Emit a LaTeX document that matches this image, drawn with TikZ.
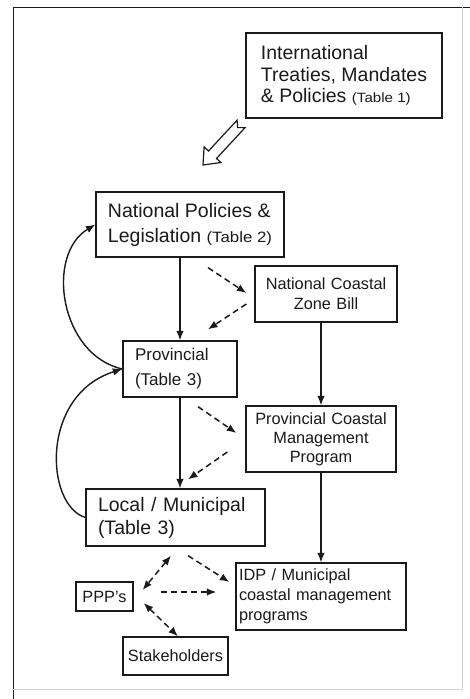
\documentclass[tikz,border=0pt]{standalone}
\usepackage{fontspec}
\usepackage{graphicx}
\setmainfont{Liberation Sans}
\usetikzlibrary{arrows.meta,calc}

\definecolor{ink}{HTML}{1A1A1A}

% small, slightly widened table reference
\newcommand{\tabref}[2]{\scalebox{1.12}[1]{\fontsize{#1}{#1}\selectfont #2}}

\begin{document}
\begin{tikzpicture}[x=1pt,y=-1pt,
  box/.style={draw=ink, line width=1.3pt, text=ink, inner ysep=0pt, anchor=center},
  bigtype/.style={font=\fontsize{19.5}{#1}\selectfont},
  smalltype/.style={font=\fontsize{16.3}{#1}\selectfont},
  tip/.tip={Latex[length=9.5pt,width=7.5pt]},
  solidarrow/.style={draw=ink, line width=1.4pt, -tip},
  dasharrow/.style={draw=ink, line width=1.5pt, dash pattern=on 6pt off 4pt, -tip},
  dashboth/.style={draw=ink, line width=1.5pt, dash pattern=on 6pt off 4pt, tip-tip},
  curvearrow/.style={draw=ink, line width=1.4pt, -tip}]

\useasboundingbox (0,0) rectangle (470,699);
\fill[white] (0,0) rectangle (470,699);

% outer frame
\draw[ink, line width=1pt] (13,699) -- (13,7) -- (470,7);
\draw[black!18, line width=0.8pt] (13,689) -- (462,689) -- (462,7);

% boxes
\node[box, bigtype=21.7, minimum width=196pt, minimum height=85pt, align=left] (intl) at (344,75.5)
  {International\\Treaties, Mandates\\\& Policies \tabref{13.5}{(Table 1)}};
\node[box, bigtype=25, minimum width=188pt, minimum height=65pt, align=left] (natl) at (190,224.5)
  {National Policies \&\\Legislation \tabref{15}{(Table 2)}};
\node[box, smalltype=20, text width=130pt, inner xsep=6pt, minimum height=56pt, align=center] (nczb) at (326,294)
  {National Coastal\\Zone Bill};
\node[box, font=\fontsize{17}{25}\selectfont, text width=90pt, inner xsep=12pt, minimum height=56pt, align=left] (prov) at (180,369)
  {Provincial\\(Table 3)};
\node[box, smalltype=19, text width=142pt, inner xsep=4pt, minimum height=66pt, align=center] (pcmp) at (321,439)
  {Provincial Coastal\\Management\\Program};
\node[box, bigtype=23, text width=155pt, inner xsep=12pt, minimum height=57pt, align=left] (local) at (175.5,517.5)
  {Local / Municipal\\(Table 3)};
\node[box, smalltype=20, text width=164pt, inner xsep=3pt, minimum height=67pt, align=left] (idp) at (321,596.5)
  {IDP / Municipal\\coastal management\\programs};
\node[box, smalltype=20, minimum width=57pt, minimum height=29pt, align=center] (ppp) at (104.5,596.5)
  {PPP's};
\node[box, smalltype=20, minimum width=105pt, minimum height=38pt, align=center] (stake) at (175.5,656)
  {Stakeholders};

% hollow arrow from the international level down to national policy
\draw[ink, line width=1.2pt, fill=white, line join=miter]
  (203,165) -- (220.9,162.5) -- (216.5,158.5) -- (245.1,127.6) -- (237.7,127.6)
  -- (237.1,120.2) -- (208.5,151.0) -- (204.1,146.9) -- cycle;

% main vertical flow
\draw[solidarrow] (natl.south -| prov.north) -- (prov.north);
\draw[solidarrow] (prov.south) -- (prov.south |- local.north);
\draw[solidarrow] (nczb.south -| pcmp.north) -- (pcmp.north);
\draw[solidarrow] (pcmp.south) -- (pcmp.south |- idp.north);

% feedback loops on the left
\draw[curvearrow] (prov.west) .. controls (60,355) and (45,255) .. (natl.west);
\draw[curvearrow] (local.west) .. controls (45,505) and (40,395) .. (prov.west);

% dashed exchanges
\draw[dasharrow] ($(natl.south)+(18,10)$) -- ($(nczb.west)+(-8,-1)$);
\draw[dasharrow] ($(nczb.west)+(-8,10)$) -- ($(prov.north)+(28,-11)$);
\draw[dasharrow] ($(prov.south)+(18,9)$) -- ($(pcmp.west)+(-9,-6)$);
\draw[dasharrow] ($(pcmp.west)+(-18,13)$) -- ($(local.north)+(12.5,-9)$);
\draw[dashboth] ($(local.south)+(-4.5,9)$) -- ($(ppp.east)+(9,-6.5)$);
\draw[dasharrow] ($(local.south)+(12.5,9)$) -- ($(idp.west)+(-6,-14.5)$);
\draw[dasharrow] ($(ppp.east)+(27,-4.5)$) -- ($(idp.west)+(-19,-4.5)$);
\draw[dashboth] ($(ppp.east)+(10,6.5)$) -- ($(stake.north)+(2.5,0)$);
\end{tikzpicture}
\end{document}
